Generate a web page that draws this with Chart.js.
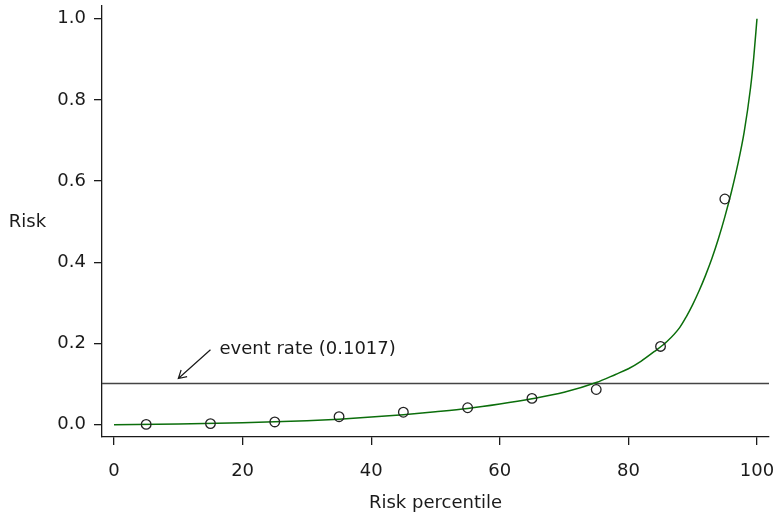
<!DOCTYPE html>
<html>
<head>
<meta charset="utf-8">
<script src="https://cdn.jsdelivr.net/npm/chart.js@4/dist/chart.umd.min.js"></script>
<style>
  html, body { margin: 0; padding: 0; background: #fff; }
  #wrap { width: 778px; height: 517px; }
</style>
</head>
<body>
<div id="wrap"><canvas id="c" width="778" height="517"></canvas></div>
<script>
// Observed risk per decile of predicted risk (midpoints of each decile)
const decileMid = [5, 15, 25, 35, 45, 55, 65, 75, 85, 95];
const observedRisk = [0.001, 0.003, 0.007, 0.020, 0.031, 0.042, 0.065, 0.087, 0.193, 0.556];

// Fitted risk curve against risk percentile
const curvePct = [0, 10, 20, 30, 35, 40, 45, 50, 55, 60, 65, 70, 75, 78, 80, 82, 84, 86, 88, 89, 90, 91, 92, 93, 94, 95, 96, 97, 98, 99, 99.5, 100];
const curveRisk = [0.000, 0.002, 0.005, 0.010, 0.014, 0.019, 0.025, 0.032, 0.040, 0.051, 0.064, 0.080, 0.104, 0.124, 0.138, 0.157, 0.180, 0.205, 0.240, 0.266, 0.296, 0.330, 0.368, 0.410, 0.458, 0.512, 0.572, 0.640, 0.720, 0.830, 0.905, 1.000];

// Overall event rate
const eventRate = 0.1017;
const eventLabel = 'event rate (0.1017)';

// Axis ticks and ranges
const xTicks = [0, 20, 40, 60, 80, 100];
const yTicks = [0.0, 0.2, 0.4, 0.6, 0.8, 1.0];
const xRange = [-1.87, 101.87];
const yRange = [-0.030, 1.031];

const FONT = 'DejaVu Sans';
const INK = '#1a1a1a';

const annotate = {
  id: 'annotate',
  afterDatasetsDraw(chart) {
    const { ctx, scales: { x, y } } = chart;
    ctx.save();
    // arrow pointing at the event-rate line
    const x0 = x.getPixelForValue(15), y0 = y.getPixelForValue(0.185);
    const x1 = x.getPixelForValue(10), y1 = y.getPixelForValue(0.114);
    ctx.strokeStyle = INK;
    ctx.lineWidth = 1.2;
    ctx.beginPath();
    ctx.moveTo(x0, y0);
    ctx.lineTo(x1, y1);
    const ang = Math.atan2(y1 - y0, x1 - x0);
    const L = 9, spread = Math.PI / 6;
    ctx.moveTo(x1 - L * Math.cos(ang - spread), y1 - L * Math.sin(ang - spread));
    ctx.lineTo(x1, y1);
    ctx.lineTo(x1 - L * Math.cos(ang + spread), y1 - L * Math.sin(ang + spread));
    ctx.stroke();
    ctx.fillStyle = INK;
    ctx.font = '18px "' + FONT + '"';
    ctx.textAlign = 'left';
    ctx.textBaseline = 'middle';
    ctx.fillText(eventLabel, x.getPixelForValue(16.4), y.getPixelForValue(0.187));
    // horizontal y-axis title
    ctx.textAlign = 'center';
    ctx.fillText('Risk', 27.5, 222);
    ctx.restore();
  }
};

new Chart(document.getElementById('c'), {
  type: 'scatter',
  data: {
    datasets: [
      {
        label: 'fitted',
        data: curvePct.map((p, i) => ({ x: p, y: curveRisk[i] })),
        showLine: true,
        borderColor: '#0b6e0b',
        borderWidth: 1.5,
        pointRadius: 0,
        cubicInterpolationMode: 'monotone',
        order: 2
      },
      {
        label: 'event rate',
        data: [{ x: xRange[0], y: eventRate }, { x: xRange[1], y: eventRate }],
        showLine: true,
        borderColor: '#444',
        borderWidth: 1.4,
        pointRadius: 0,
        order: 3
      },
      {
        label: 'observed',
        data: decileMid.map((p, i) => ({ x: p, y: observedRisk[i] })),
        pointRadius: 4.8,
        pointBackgroundColor: 'rgba(255,255,255,0)',
        pointBorderColor: '#222',
        pointBorderWidth: 1.3,
        order: 1
      }
    ]
  },
  options: {
    responsive: false,
    animation: false,
    events: [],
    layout: { padding: { left: 0, right: 9, top: 5, bottom: 0 } },
    plugins: { legend: { display: false }, tooltip: { enabled: false } },
    scales: {
      x: {
        type: 'linear',
        min: xRange[0],
        max: xRange[1],
        afterBuildTicks(s) { s.ticks = xTicks.map(v => ({ value: v })); },
        afterFit(s) { s.height = 80; s.paddingLeft = 0; s.paddingRight = 0; },
        grid: { drawOnChartArea: false, drawTicks: true, tickLength: 8, color: INK, lineWidth: 1.3 },
        border: { display: true, color: INK, width: 1.3 },
        ticks: { color: INK, font: { family: FONT, size: 18 }, padding: 16, maxRotation: 0 },
        title: { display: true, text: 'Risk percentile', color: INK, font: { family: FONT, size: 18 }, padding: { top: 0, bottom: 3 } }
      },
      y: {
        type: 'linear',
        min: yRange[0],
        max: yRange[1],
        afterBuildTicks(s) { s.ticks = yTicks.map(v => ({ value: v })); },
        afterFit(s) { s.width = 102; s.paddingTop = 0; s.paddingBottom = 0; },
        grid: { drawOnChartArea: false, drawTicks: true, tickLength: 8, color: INK, lineWidth: 1.3 },
        border: { display: true, color: INK, width: 1.3 },
        ticks: { color: INK, font: { family: FONT, size: 18 }, padding: 8, callback: v => Number(v).toFixed(1) }
      }
    }
  },
  plugins: [annotate]
});
</script>
</body>
</html>
